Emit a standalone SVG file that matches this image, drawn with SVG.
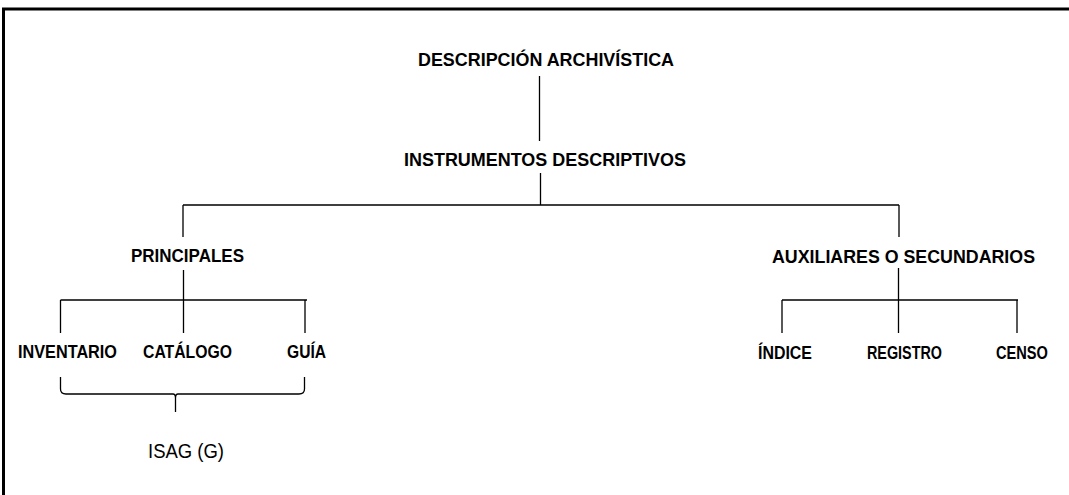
<svg xmlns="http://www.w3.org/2000/svg" width="1069" height="495" viewBox="0 0 1069 495">
<style>
.b{font-family:"Liberation Sans",Arial,sans-serif;font-weight:bold;font-size:18.5px;fill:#000}
.r{font-family:"Liberation Sans",Arial,sans-serif;font-size:20.5px;fill:#000}
.c{stroke:#000;stroke-width:1.3;fill:none}
</style>
<rect width="1069" height="495" fill="#fff"/>
<path d="M3.5 495 V9 H1069" stroke="#000" stroke-width="3" fill="none"/>
<g id="connectors" class="c">
<path d="M539.5 76 V141"/>
<path d="M540.5 173 V205 M183 205 H899 M183 205 V237 M899 205 V237"/>
<path d="M183.5 270 V333 M60.5 300 H307 M60.5 300 V333 M305 300 V333"/>
<path d="M898.5 268 V333 M782 300 H1018 M782 300 V333 M1017 300 V333"/>
<path d="M60.5 377 V389 Q60.5 394 66 394 H173 Q175.5 394 175.5 398 V412 M175.5 398 Q175.5 394 178 394 H299 Q304.5 394 304.5 389 V377"/>
</g>
<g id="n-descripcion"><text class="b" x="418" y="66" textLength="256" lengthAdjust="spacingAndGlyphs">DESCRIPCIÓN ARCHIVÍSTICA</text></g>
<g id="n-instrumentos"><text class="b" x="404" y="166" textLength="282" lengthAdjust="spacingAndGlyphs">INSTRUMENTOS DESCRIPTIVOS</text></g>
<g id="n-principales"><text class="b" x="131" y="262" textLength="113" lengthAdjust="spacingAndGlyphs">PRINCIPALES</text></g>
<g id="n-auxiliares"><text class="b" x="772" y="263" textLength="263" lengthAdjust="spacingAndGlyphs">AUXILIARES O SECUNDARIOS</text></g>
<g id="n-inventario"><text class="b" x="18" y="358" textLength="99" lengthAdjust="spacingAndGlyphs">INVENTARIO</text></g>
<g id="n-catalogo"><text class="b" x="143" y="358" textLength="89" lengthAdjust="spacingAndGlyphs">CATÁLOGO</text></g>
<g id="n-guia"><text class="b" x="287" y="358" textLength="39" lengthAdjust="spacingAndGlyphs">GUÍA</text></g>
<g id="n-indice"><text class="b" x="758" y="359" textLength="54" lengthAdjust="spacingAndGlyphs">ÍNDICE</text></g>
<g id="n-registro"><text class="b" x="867" y="359" textLength="75" lengthAdjust="spacingAndGlyphs">REGISTRO</text></g>
<g id="n-censo"><text class="b" x="996" y="359" textLength="52" lengthAdjust="spacingAndGlyphs">CENSO</text></g>
<g id="n-isag"><text class="r" x="148" y="458" textLength="76" lengthAdjust="spacingAndGlyphs">ISAG (G)</text></g>
</svg>
